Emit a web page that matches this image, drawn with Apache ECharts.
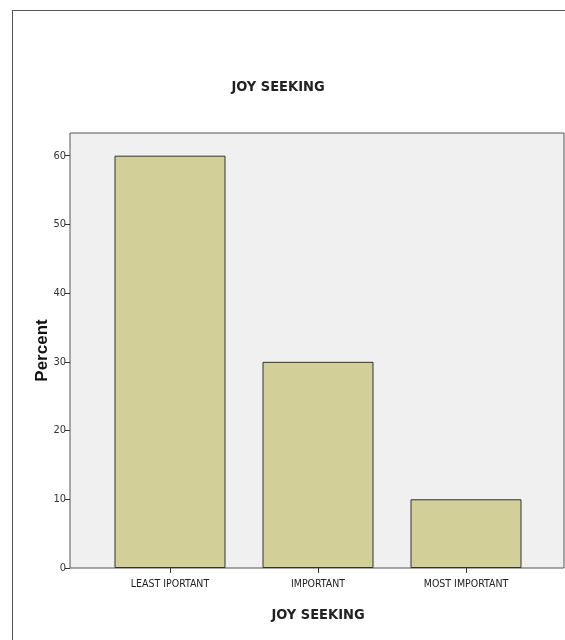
<!DOCTYPE html>
<html>
<head>
<meta charset="utf-8">
<script src="https://cdn.jsdelivr.net/npm/echarts@6/dist/echarts.min.js"></script>
<style>
  html, body { margin: 0; padding: 0; background: #fff; overflow: hidden; }
  #frame { position: absolute; left: 12px; top: 10px; width: 640px; height: 700px; border: 1px solid #555; box-sizing: border-box; }
  #chart { position: absolute; left: 0; top: 0; width: 565px; height: 640px; }
</style>
</head>
<body>
<div id="frame"></div>
<div id="chart"></div>
<script>
const categories = ['LEAST IPORTANT', 'IMPORTANT', 'MOST IMPORTANT'];
const percentValues = [60, 30, 10];
const chartTitle = 'JOY SEEKING';
const xAxisTitle = 'JOY SEEKING';
const yAxisTitle = 'Percent';

const NARROW = "'Liberation Sans Narrow', 'Arial Narrow', 'DejaVu Sans Condensed', sans-serif";
const yMax = 63.3;

const chart = echarts.init(document.getElementById('chart'), null, { renderer: 'canvas' });
chart.setOption({
  animation: false,
  backgroundColor: 'transparent',
  title: {
    text: chartTitle,
    left: 273, top: 75, textAlign: 'center',
    textStyle: { fontFamily: NARROW, fontSize: 14.5, fontWeight: 'bold', color: '#222' }
  },
  grid: [
    { left: 70, right: 1, top: 133, bottom: 72, show: true, backgroundColor: '#f0f0f0', borderColor: '#555', borderWidth: 1 },
    { left: 96, right: 25, top: 133, bottom: 72 }
  ],
  xAxis: [
    { gridIndex: 0, type: 'value', min: 0, max: 1, show: false },
    {
      gridIndex: 1, type: 'category', data: categories,
      axisLine: { show: false },
      axisTick: { show: true, alignWithLabel: true, length: 5, lineStyle: { color: '#333' } },
      axisLabel: { fontFamily: NARROW, fontSize: 10.5, color: '#222', margin: 11 },
      name: xAxisTitle, nameLocation: 'middle', nameGap: 40, nameMoveOverlap: false,
      nameTextStyle: { fontFamily: NARROW, fontSize: 14.5, fontWeight: 'bold', color: '#222' }
    }
  ],
  yAxis: [
    {
      gridIndex: 0, type: 'value', min: 0, max: yMax, interval: 10,
      axisLine: { show: false },
      axisTick: { show: true, length: 5, lineStyle: { color: '#333' } },
      splitLine: { show: false },
      axisLabel: { fontFamily: NARROW, fontSize: 11, color: '#333', margin: 4, showMaxLabel: false },
      name: yAxisTitle, nameLocation: 'middle', nameGap: 19, nameRotate: 90, nameMoveOverlap: false,
      nameTextStyle: { fontFamily: 'Liberation Sans, Arial, sans-serif', fontSize: 17, fontWeight: 'bold', color: '#111' }
    },
    { gridIndex: 1, type: 'value', min: 0, max: yMax, show: false }
  ],
  series: [{
    type: 'bar', xAxisIndex: 1, yAxisIndex: 1,
    data: percentValues,
    barWidth: '75%',
    itemStyle: { color: '#d3cf98', borderColor: '#333', borderWidth: 1 }
  }]
});
</script>
</body>
</html>
